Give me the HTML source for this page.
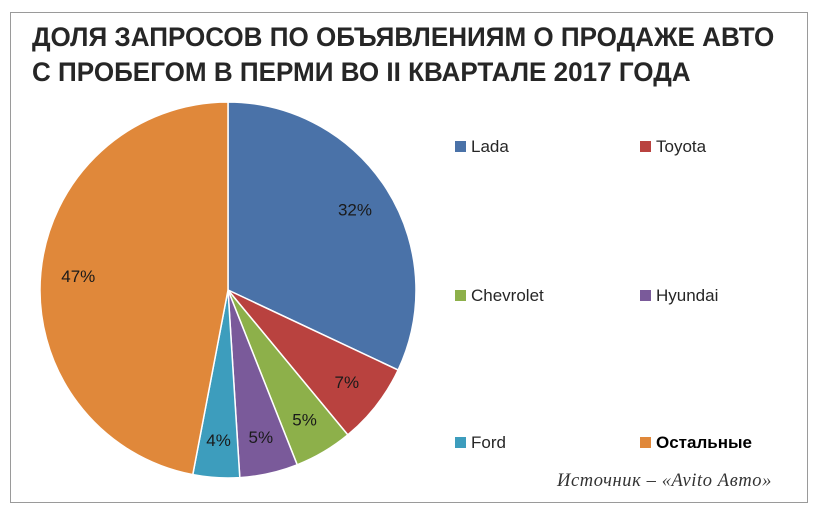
<!DOCTYPE html>
<html><head><meta charset="utf-8"><style>
html,body{margin:0;padding:0;background:#fff;}
#wrap{position:relative;width:818px;height:518px;overflow:hidden;font-family:"Liberation Sans","DejaVu Sans",sans-serif;}
#frame{position:absolute;left:10px;top:12px;width:796px;height:489px;border:1px solid #9a9a9a;background:#fff;}
.t{position:absolute;left:32px;font-weight:bold;font-size:27px;color:#262626;white-space:nowrap;transform-origin:0 0;}
.lg{position:absolute;font-size:17px;color:#262626;white-space:nowrap;}
.sq{display:inline-block;width:11px;height:11px;margin-right:5px;vertical-align:0px;}
</style></head><body>
<div id="wrap">
<div id="frame"></div>
<div class="t" style="top:22px;transform:scaleX(0.965)">ДОЛЯ ЗАПРОСОВ ПО ОБЪЯВЛЕНИЯМ О ПРОДАЖЕ АВТО</div>
<div class="t" style="top:57px;transform:scaleX(0.965)">С ПРОБЕГОМ В ПЕРМИ ВО II КВАРТАЛЕ 2017 ГОДА</div>
<svg id="pie" width="818" height="518" style="position:absolute;left:0;top:0"></svg>
<div class="lg" style="left:455px;top:137px"><span class="sq" style="background:#4a72a8"></span>Lada</div>
<div class="lg" style="left:640px;top:137px"><span class="sq" style="background:#b9423f"></span>Toyota</div>
<div class="lg" style="left:455px;top:286px"><span class="sq" style="background:#8db04a"></span>Chevrolet</div>
<div class="lg" style="left:640px;top:286px"><span class="sq" style="background:#7a5a9a"></span>Hyundai</div>
<div class="lg" style="left:455px;top:433px"><span class="sq" style="background:#3d9dbd"></span>Ford</div>
<div class="lg" style="left:640px;top:433px;font-weight:bold;color:#000"><span class="sq" style="background:#e0883a"></span>Остальные</div>
<div style="position:absolute;left:557px;top:471px;font-family:'Liberation Serif',serif;font-style:italic;font-size:18.5px;color:#333;letter-spacing:0.6px">Источник – «Avito Авто»</div>
</div>
<script>
const categories=["Lada","Toyota","Chevrolet","Hyundai","Ford","Остальные"];
const values=[32,7,5,5,4,47];
const labels=["32%","7%","5%","5%","4%","47%"];
const colors=["#4a72a8","#b9423f","#8db04a","#7a5a9a","#3d9dbd","#e0883a"];
const svg=document.getElementById('pie');
const NS="http://www.w3.org/2000/svg";
const cx=228,cy=290,r=188;
const total=values.reduce((a,b)=>a+b,0);
function pt(a,rr){return [cx+rr*Math.sin(a),cy-rr*Math.cos(a)];}
let acc=0;
values.forEach((v,i)=>{
  const a0=acc/total*2*Math.PI; acc+=v; const a1=acc/total*2*Math.PI;
  const p0=pt(a0,r),p1=pt(a1,r);
  const large=(a1-a0)>Math.PI?1:0;
  const path=document.createElementNS(NS,'path');
  path.setAttribute('d',`M${cx},${cy} L${p0[0]},${p0[1]} A${r},${r} 0 ${large} 1 ${p1[0]},${p1[1]} Z`);
  path.setAttribute('fill',colors[i]);
  path.setAttribute('stroke','#fff');
  path.setAttribute('stroke-width','1.5');
  
  
  svg.appendChild(path);
  const am=(a0+a1)/2;
  const lp=pt(am,r*0.8);
  const t=document.createElementNS(NS,'text');
  t.setAttribute('x',lp[0]);t.setAttribute('y',lp[1]+6);
  t.setAttribute('text-anchor','middle');
  t.setAttribute('font-size','17');
  t.setAttribute('font-family','Liberation Sans, sans-serif');
  t.setAttribute('fill','#1a1a1a');
  t.textContent=labels[i];
  
  
  svg.appendChild(t);
});
</script>
</body></html>
